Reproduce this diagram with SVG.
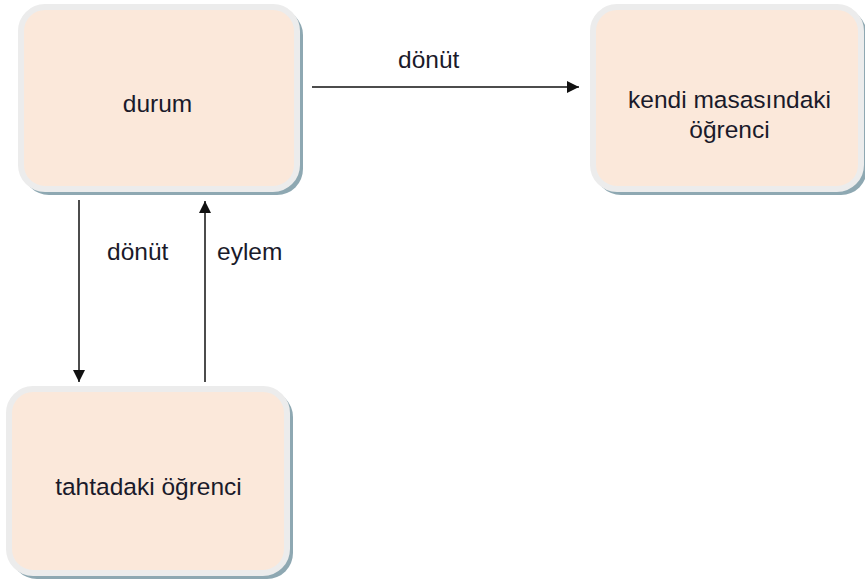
<svg xmlns="http://www.w3.org/2000/svg" width="865" height="585" viewBox="0 0 865 585">
<style>
.shadow{fill:#8ea8b2;}
.box{fill:#fbe8da;stroke:#ececec;stroke-width:6;}
.t{font-family:"Liberation Sans",Arial,sans-serif;font-size:24.5px;fill:#1a1a2a;text-anchor:middle;}
.l{font-family:"Liberation Sans",Arial,sans-serif;font-size:24.5px;fill:#1a1a2a;}
.c{stroke:#111;stroke-width:1.5;fill:none;marker-end:url(#ah);}
</style>
<defs>
<marker id="ah" viewBox="0 0 12 12" refX="12" refY="6" markerWidth="12" markerHeight="12" markerUnits="userSpaceOnUse" orient="auto">
<path d="M0,0 L12,6 L0,12 Z" fill="#111"/>
</marker>
</defs>
<g id="durum">
<rect class="shadow" x="23" y="9" width="280" height="186" rx="26"/>
<rect class="box" x="21" y="7" width="276" height="182" rx="24"/>
<text class="t" x="157.5" y="112">durum</text>
</g>
<g id="kendi">
<rect class="shadow" x="595" y="9" width="272" height="186" rx="26"/>
<rect class="box" x="593" y="7" width="268" height="182" rx="24"/>
<text class="t" x="729.5" y="108">kendi masasındaki</text>
<text class="t" x="729.5" y="138">öğrenci</text>
</g>
<g id="tahtadaki">
<rect class="shadow" x="11" y="391" width="282" height="188" rx="26"/>
<rect class="box" x="9" y="389" width="278" height="184" rx="24"/>
<text class="t" x="148.5" y="495">tahtadaki öğrenci</text>
</g>
<g id="connectors">
<line class="c" x1="312" y1="87" x2="579" y2="87"/>
<line class="c" x1="79" y1="200" x2="79" y2="382"/>
<line class="c" x1="205" y1="382" x2="205" y2="201"/>
<text class="l" x="398" y="68">dönüt</text>
<text class="l" x="107" y="260">dönüt</text>
<text class="l" x="217" y="260">eylem</text>
</g>
</svg>
